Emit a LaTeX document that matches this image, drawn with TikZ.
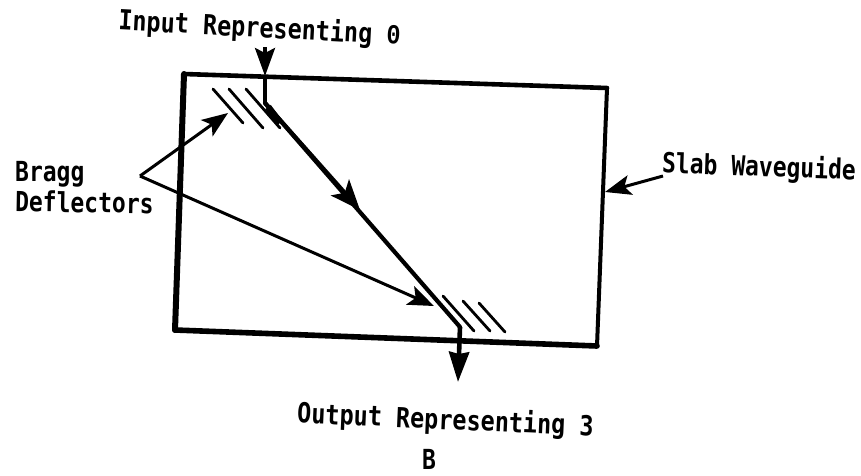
\documentclass[tikz,border=0pt]{standalone}
\usepackage{graphicx}
\usepackage{fontspec}
\setmonofont{DejaVu Sans Mono}
\newfontfamily\zerofont{Liberation Mono}
\newcommand{\tallt}[1]{\scalebox{1}[1.2]{#1}}
\newcommand{\tallw}[1]{\scalebox{1.02}[1.2]{#1}}
\usetikzlibrary{arrows.meta}
\tikzset{
  x=1pt,y=-1pt,
  lbl/.style={font=\ttfamily\bfseries\fontsize{23}{28}\selectfont,inner sep=0pt,text=black,align=left},
  edge5/.style={line width=#1,line cap=round,line join=round},
  hatch/.style={line width=2.8pt,line cap=round},
  thin arrow/.style={line width=3pt,-{Stealth[length=26pt,width=20pt,inset=6pt]}},
  beam/.style={line width=4.2pt,line cap=round,line join=round}
}
\begin{document}
\begin{tikzpicture}
\useasboundingbox (0,0) rectangle (861,475);
\fill[white] (0,0) rectangle (861,475);
% slab corners
\coordinate (tl) at (184,74);
\coordinate (tr) at (607,88);
\coordinate (br) at (597,346);
\coordinate (bl) at (175,330);
\draw[edge5=4.6pt] (tl) -- (tr);
\draw[edge5=4pt] (tr) -- (br);
\draw[edge5=5.6pt] (br) -- (bl);
\draw[edge5=6pt] (bl) -- (tl);
% labels
\node[lbl,anchor=center,rotate=-3] (inlab) at (259.5,29) {\tallw{Input Representing {\zerofont 0}}};
\node[lbl,anchor=west] (bragg) at (15,174) {\tallt{Bragg}};
\node[lbl,anchor=west,rotate=-1] (defl) at (15,201) {\tallt{Deflectors}};
\node[lbl,anchor=center,rotate=-2] (slab) at (759,168) {\tallt{Slab Waveguide}};
\node[lbl,anchor=center,rotate=-2.5] (outlab) at (445.5,421) {\tallw{Output Representing 3}};
\node[lbl,anchor=center] (blab) at (429,459) {\tallt{B}};
% beam
\coordinate (instart) at (265,47);
\coordinate (intip) at (265,76);
\coordinate (bend1) at (265,103);
\coordinate (thickend) at (280,123);
\coordinate (beamtip) at (360,210);
\coordinate (bend2) at (460,327);
\coordinate (outtip) at (458,382);
\draw[line width=3.4pt,-{Stealth[length=28pt,width=20pt,inset=5pt]}] (instart) -- (intip);
\draw[line width=3.4pt] (intip) -- (bend1);
\draw[line width=7pt] (bend1) ++(3,4) -- (thickend);
\draw[beam] (bend1) -- (bend2);
\draw[line width=4.2pt,-{Stealth[length=30pt,width=24pt,inset=7pt]}] (bend1) -- (beamtip);
\draw[line width=4.6pt,-{Stealth[length=30pt,width=20pt,inset=2pt]}] (bend2) -- (outtip);
% upper grating
\coordinate (a1) at (213,89); \coordinate (a2) at (243,123);
\coordinate (b1) at (229,89); \coordinate (b2) at (263,128);
\coordinate (c1) at (246,89); \coordinate (c2) at (280,128);
\draw[hatch] (a1) -- (a2);
\draw[hatch] (b1) -- (b2);
\draw[hatch] (c1) -- (c2);
% lower grating
\coordinate (d1) at (443,296); \coordinate (d2) at (474,331);
\coordinate (e1) at (463,301); \coordinate (e2) at (490,331);
\coordinate (f1) at (479,303); \coordinate (f2) at (505,332);
\draw[hatch] (d1) -- (d2);
\draw[hatch] (e1) -- (e2);
\draw[hatch] (f1) -- (f2);
% leaders
\coordinate (apex) at (140,176);
\coordinate (up) at (228,113);
\coordinate (low) at (434,306);
\coordinate (slabfrom) at (663,176);
\coordinate (slabto) at (605,192);
\draw[thin arrow] (apex) -- (up);
\draw[thin arrow] (apex) -- (low);
\draw[thin arrow] (slabfrom) -- (slabto);
\end{tikzpicture}
\end{document}
